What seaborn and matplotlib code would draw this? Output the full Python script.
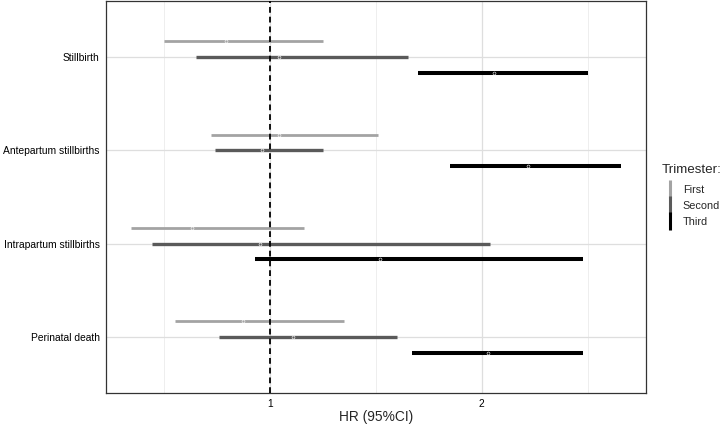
import numpy as np
import pandas as pd
import matplotlib
matplotlib.use("Agg")
import matplotlib.pyplot as plt
from matplotlib.lines import Line2D
import seaborn as sns

# HR (95% CI)
outcomes = ["Stillbirth", "Antepartum stillbirths", "Intrapartum stillbirths", "Perinatal death"]
trimesters = ["First", "Second", "Third"]

hr_first = [0.79, 1.04, 0.63, 0.87]
lo_first = [0.50, 0.72, 0.34, 0.55]
hi_first = [1.25, 1.51, 1.16, 1.35]

hr_second = [1.04, 0.96, 0.95, 1.11]
lo_second = [0.65, 0.74, 0.44, 0.76]
hi_second = [1.65, 1.25, 2.04, 1.60]

hr_third = [2.06, 2.22, 1.52, 2.03]
lo_third = [1.70, 1.85, 0.93, 1.67]
hi_third = [2.50, 2.66, 2.48, 2.48]

colors = ["#a3a3a3", "#5a5a5a", "#000000"]

# long table: lo / hr / hi per outcome-trimester, median = HR, min/max = CI
rows = []
for tri, hr, lo, hi in [("First", hr_first, lo_first, hi_first),
                        ("Second", hr_second, lo_second, hi_second),
                        ("Third", hr_third, lo_third, hi_third)]:
    for i, o in enumerate(outcomes):
        for v in (lo[i], hr[i], hi[i]):
            rows.append({"outcome": o, "Trimester": tri, "value": v})
df = pd.DataFrame(rows)

sns.set_style("white")
plt.rcParams["font.family"] = ["Liberation Sans", "DejaVu Sans"]

fig = plt.figure(figsize=(7.22, 4.24), dpi=100)
ax = fig.add_axes([106 / 722, 1 - 393 / 424, 540 / 722, 392 / 424])

sns.pointplot(data=df, x="value", y="outcome", hue="Trimester",
              order=outcomes, hue_order=trimesters, palette=colors,
              estimator="median", errorbar=lambda v: (v.min(), v.max()),
              dodge=0.334, linestyle="none", marker="o", markersize=2.1,
              markeredgecolor="white", markeredgewidth=0.4,
              err_kws={"linewidth": 2.0}, legend=False, ax=ax)

# thicker bars for later trimesters, points above bars
for ln in ax.lines:
    if ln.get_marker() not in (None, "None", ""):
        ln.set_zorder(5)
    else:
        c = matplotlib.colors.to_hex(ln.get_color())
        ln.set_linewidth({"#a3a3a3": 2.0, "#5a5a5a": 2.4, "#000000": 2.9}.get(c, 2.0))
        ln.set_solid_capstyle("butt")

ax.axvline(1, color="black", linestyle=(0, (3.2, 2.2)), linewidth=1.3, zorder=6)

all_lo = min(lo_first + lo_second + lo_third)
all_hi = max(hi_first + hi_second + hi_third)
pad = 0.05 * (all_hi - all_lo)
ax.set_xlim(all_lo - pad, all_hi + pad)
ax.set_ylim(len(outcomes) - 0.4, -0.6)

ax.set_xticks([1, 2])
ax.set_xticklabels(["1", "2"])
ax.set_xticks([0.5, 1.5, 2.5], minor=True)
ax.grid(which="major", color="#dedede", linewidth=0.9)
ax.grid(which="minor", axis="x", color="#ebebeb", linewidth=0.6)
ax.set_axisbelow(True)

for s in ax.spines.values():
    s.set_color("#333333")
    s.set_linewidth(0.9)
ax.tick_params(axis="both", which="major", length=3, width=0.8, color="#333333",
               labelsize=7.4, labelcolor="black", pad=1.5)
ax.tick_params(axis="x", which="minor", length=0)
ax.set_xlabel("HR (95%CI)", fontsize=9.9, labelpad=0.5)
ax.set_ylabel("")

handles = [Line2D([], [], color=c, marker="|", markersize=13, markeredgewidth=2.2,
                  linestyle="none") for c in colors]
fig.text(662 / 722, 1 - 170 / 424, "Trimester:", fontsize=9.6, ha="left", va="center")
fig.legend(handles, trimesters, loc="center left",
           bbox_to_anchor=(0.905, 1 - 206 / 424), frameon=False, fontsize=7.8,
           handlelength=1.2, handletextpad=0.6, labelspacing=0.58)

fig.savefig("out.png", dpi=100)
